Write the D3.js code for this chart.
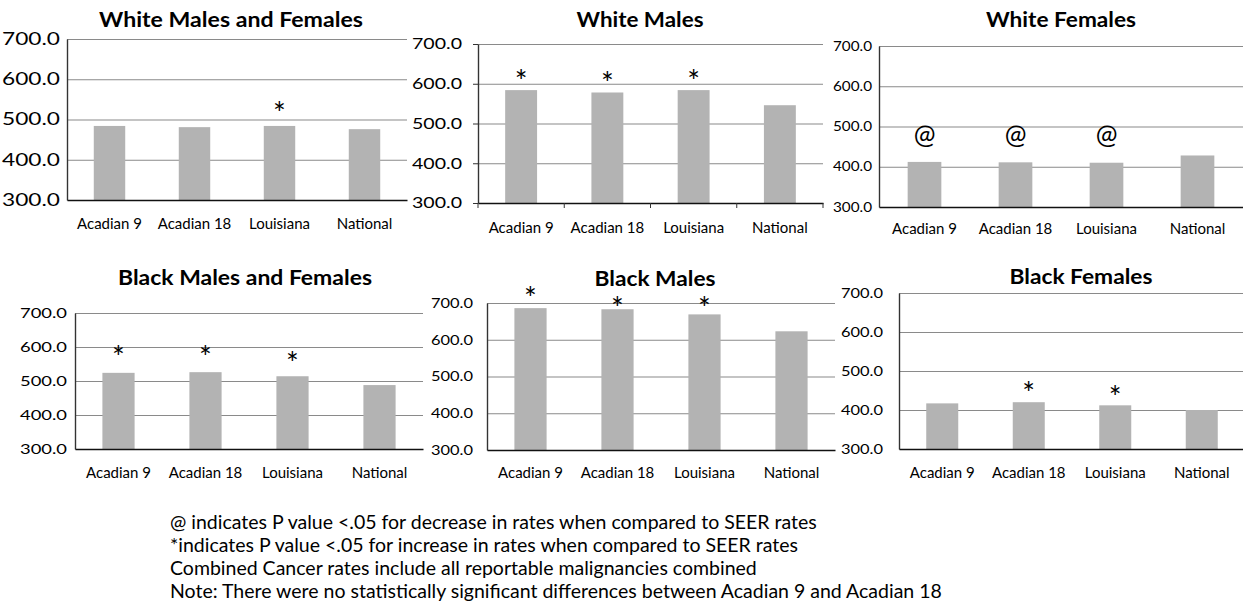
<!DOCTYPE html>
<html>
<head>
<meta charset="utf-8">
<script src="https://cdn.jsdelivr.net/npm/d3@7"></script>
<style>
  body { margin: 0; background: #fff; }
  text { font-family: Lato, "Open Sans", sans-serif; fill: #000; }
</style>
</head>
<body>
<svg id="chart" width="1243" height="607"></svg>
<script>
// ---- data ----
const categories = ["Acadian 9", "Acadian 18", "Louisiana", "National"];
const yTicks = [300, 400, 500, 600, 700];

const whiteBoth = [484, 481, 484, 476];
const whiteBothMarks = ["", "", "*", ""];
const whiteBothMarkAt = [null, null, 536, null];

const whiteMales = [584, 578, 584, 546];
const whiteMalesMarks = ["*", "*", "*", ""];
const whiteMalesMarkAt = [627, 620, 627, null];

const whiteFemales = [412, 411, 410, 428];
const whiteFemalesMarks = ["@", "@", "@", ""];
const whiteFemalesMarkAt = [475, 475, 475, null];

const blackBoth = [524, 526, 514, 488];
const blackBothMarks = ["*", "*", "*", ""];
const blackBothMarkAt = [594, 594, 576, null];

const blackMales = [686, 683, 669, 623];
const blackMalesMarks = ["*", "*", "*", ""];
const blackMalesMarkAt = [733, 708, 708, null];

const blackFemales = [417, 420, 412, 400];
const blackFemalesMarks = ["", "*", "*", ""];
const blackFemalesMarkAt = [null, 462, 454, null];

const notes = [
  "@ indicates P value <.05 for decrease in rates when compared to SEER rates",
  "*indicates P value <.05 for increase in rates when compared to SEER rates",
  "Combined Cancer rates include all reportable malignancies combined",
  "Note: There were no statistically significant differences between Acadian 9 and Acadian 18"
];

// ---- layout of each small chart ----
const panels = [
  { title: "White Males and Females", values: whiteBoth, marks: whiteBothMarks, markAt: whiteBothMarkAt,
    left: 67, right: 407, top: 39, bottom: 200, titleX: 231, titleY: 20, titleW: 264,
    labRight: 60, labW: 58, labSize: 17, xLabY: 223, ticks: false },
  { title: "White Males", values: whiteMales, marks: whiteMalesMarks, markAt: whiteMalesMarkAt,
    left: 478, right: 823, top: 44, bottom: 203, titleX: 640, titleY: 20, titleW: 127,
    labRight: 462, labW: 50, labSize: 15, xLabY: 227, ticks: true },
  { title: "White Females", values: whiteFemales, marks: whiteFemalesMarks, markAt: whiteFemalesMarkAt,
    left: 879, right: 1243, top: 46, bottom: 207, titleX: 1061, titleY: 20, titleW: 150,
    labRight: 872, labW: 39, labSize: 13, xLabY: 228, ticks: false },
  { title: "Black Males and Females", values: blackBoth, marks: blackBothMarks, markAt: blackBothMarkAt,
    left: 75, right: 423, top: 313, bottom: 449, titleX: 245, titleY: 278, titleW: 254,
    labRight: 67, labW: 47, labSize: 14, xLabY: 472, ticks: false },
  { title: "Black Males", values: blackMales, marks: blackMalesMarks, markAt: blackMalesMarkAt,
    left: 487, right: 835, top: 303, bottom: 450, titleX: 655, titleY: 279, titleW: 121,
    labRight: 473, labW: 42, labSize: 14, xLabY: 472, ticks: false },
  { title: "Black Females", values: blackFemales, marks: blackFemalesMarks, markAt: blackFemalesMarkAt,
    left: 899, right: 1245, top: 293, bottom: 449, titleX: 1081, titleY: 277, titleW: 143,
    labRight: 883, labW: 42, labSize: 14, xLabY: 472, ticks: false }
];

const svg = d3.select("#chart");
const fmt = d3.format(".1f");

panels.forEach(function(p) {
  const g = svg.append("g");

  const x = d3.scaleBand().domain(categories).range([p.left, p.right])
    .paddingInner(0.63).paddingOuter(0.315);
  const y = d3.scaleLinear().domain([300, 700]).range([p.bottom, p.top]);

  // gridlines
  const grid = g.append("g").attr("transform", "translate(" + p.left + ",0)")
    .call(d3.axisLeft(y).tickValues(yTicks.slice(1)).tickSize(-(p.right - p.left)).tickFormat(""));
  grid.select(".domain").remove();
  grid.selectAll("line").attr("stroke", "#8a8a8a").attr("stroke-width", 1.2);

  // bars
  g.selectAll("rect.bar").data(p.values).enter().append("rect")
    .attr("class", "bar")
    .attr("x", (d, i) => x(categories[i]))
    .attr("width", x.bandwidth())
    .attr("y", d => y(d))
    .attr("height", d => p.bottom - y(d))
    .attr("fill", "#b3b3b3");

  // y axis
  const tickLen = p.ticks ? 5 : 0;
  const yAx = g.append("g").attr("transform", "translate(" + p.left + ",0)")
    .call(d3.axisLeft(y).tickValues(yTicks).tickFormat(fmt)
      .tickSize(tickLen).tickSizeOuter(0).tickPadding(p.left - p.labRight - tickLen));
  yAx.select(".domain").attr("stroke", "#333").attr("stroke-width", 1.4);
  yAx.selectAll(".tick line").attr("stroke", "#333");
  yAx.selectAll("text")
    .attr("font-size", p.labSize)
    .attr("textLength", p.labW)
    .attr("lengthAdjust", "spacingAndGlyphs")
    .style("font-family", "Lato, sans-serif");

  // x axis
  const xAx = g.append("g").attr("transform", "translate(0," + p.bottom + ")")
    .call(d3.axisBottom(x).tickSize(0).tickSizeOuter(0).tickPadding(p.xLabY - p.bottom - 5));
  xAx.select(".domain").attr("stroke", "#111").attr("stroke-width", 1.6);
  xAx.selectAll("text")
    .attr("font-size", 15)
    .style("font-family", "Lato, sans-serif");

  if (p.ticks) {
    d3.range(categories.length + 1).forEach(function(i) {
      const xx = x.range()[0] + i * x.step();
      g.append("line").attr("x1", xx).attr("x2", xx)
        .attr("y1", p.bottom).attr("y2", p.bottom + 5)
        .attr("stroke", "#333");
    });
  }

  // significance marks
  const markData = categories
    .map((c, i) => ({ cat: c, mark: p.marks[i], at: p.markAt[i] }))
    .filter(m => m.mark !== "");
  g.selectAll("text.mark").data(markData).enter().append("text")
    .attr("class", "mark")
    .attr("x", m => x(m.cat) + x.bandwidth() / 2)
    .attr("y", m => y(m.at))
    .attr("dy", m => m.mark === "@" ? "0.3em" : "0.62em")
    .attr("text-anchor", "middle")
    .attr("font-size", m => m.mark === "@" ? 26 : 30)
    .text(m => m.mark);

  // title
  g.append("text")
    .attr("x", p.titleX).attr("y", p.titleY)
    .attr("dy", "0.36em")
    .attr("text-anchor", "middle")
    .attr("font-size", 20)
    .attr("font-weight", "bold")
    .attr("textLength", p.titleW)
    .attr("lengthAdjust", "spacingAndGlyphs")
    .text(p.title);
});

// footnotes
svg.append("g").selectAll("text").data(notes).enter().append("text")
  .attr("x", 170)
  .attr("y", (d, i) => 522 + i * 23)
  .attr("dy", "0.36em")
  .attr("font-size", 19.5)
  .text(d => d);
</script>
</body>
</html>
